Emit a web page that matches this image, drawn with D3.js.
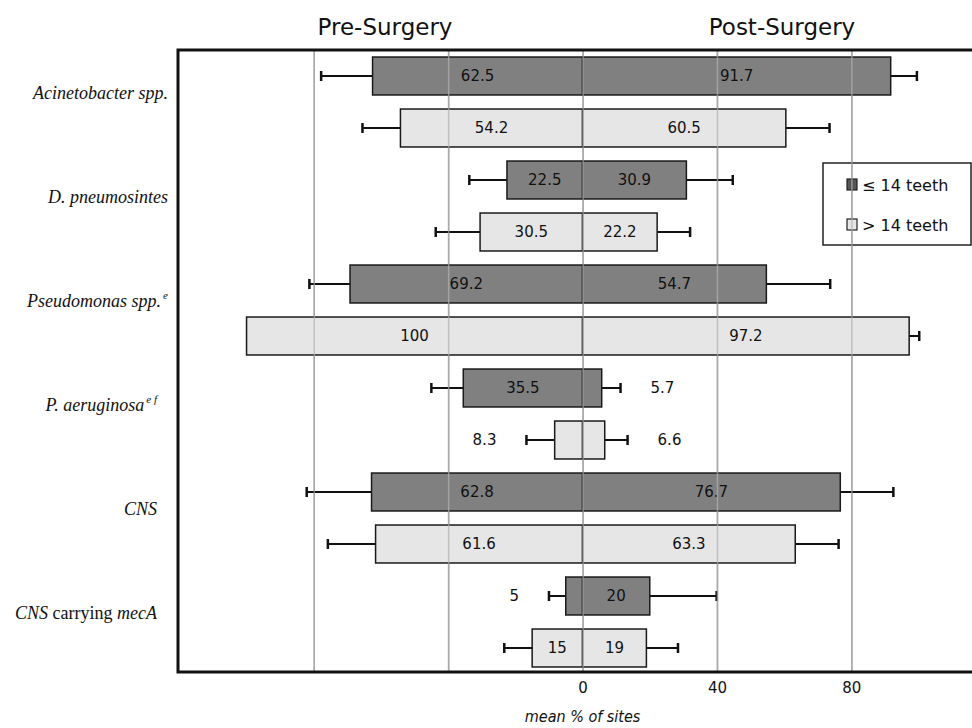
<!DOCTYPE html>
<html>
<head>
<meta charset="utf-8">
<style>
body { margin: 0; background: #fff; }
.head { font: 23px "DejaVu Sans", sans-serif; fill: #111; text-anchor: middle; }
.cat { font: italic 18px "Liberation Serif", serif; fill: #111; text-anchor: end; }
.val { font: 15px "DejaVu Sans", sans-serif; fill: #111; }
.tick text { font: 15px "DejaVu Sans", sans-serif; fill: #111; }
.xtitle { font: italic 16px "DejaVu Sans Condensed", "DejaVu Sans", sans-serif; fill: #111; text-anchor: middle; }
.leg { font: 16px "DejaVu Sans", sans-serif; fill: #111; }
</style>
</head>
<body>
<svg class="chart"></svg>
<script src="https://cdn.jsdelivr.net/npm/d3@7"></script>
<script>

var categories = ["Acinetobacter spp.", "D. pneumosintes", "Pseudomonas spp.", "P. aeruginosa", "CNS", "CNS carrying mecA"]
var superscripts = ["", "", "e", "e f", "", ""]
var groups = ["≤ 14 teeth", "> 14 teeth"]

// mean % of sites, pre- and post-surgery
var preLow = [62.5, 22.5, 69.2, 35.5, 62.8, 5]
var postLow = [91.7, 30.9, 54.7, 5.7, 76.7, 20]
var preHigh = [54.2, 30.5, 100, 8.3, 61.6, 15]
var postHigh = [60.5, 22.2, 97.2, 6.6, 63.3, 19]

// error bar lengths
var errPreLow = [15.3, 11.2, 12.1, 9.5, 19.3, 5]
var errPostLow = [7.8, 13.8, 19, 5.6, 15.8, 19.9]
var errPreHigh = [11.3, 13.2, 0, 8.4, 14.2, 8.3]
var errPostHigh = [13, 9.8, 3, 6.8, 12.9, 9.4]

var gridTicks = [-80, -40, 0, 40, 80]
var labelTicks = [0, 40, 80]

var width = 972, height = 728
var plotTop = 50, plotBottom = 672, plotLeft = 178, plotRight = 972

var rows = []
categories.forEach((c, i) => {
  rows.push({cat: i, g: 0, pre: preLow[i], post: postLow[i], ePre: errPreLow[i], ePost: errPostLow[i]})
  rows.push({cat: i, g: 1, pre: preHigh[i], post: postHigh[i], ePre: errPreHigh[i], ePost: errPostHigh[i]})
})

var x = d3.scaleLinear().domain([-120.4, 115.9]).range([plotLeft, plotRight])
var y = d3.scaleBand()
  .domain(d3.range(rows.length))
  .range([plotTop, plotBottom + 2])
  .paddingInner(0.27)
  .paddingOuter(0.135)

var fills = ["#808080", "#e6e6e6"]

var chart = d3.select(".chart")
  .attr('width', width)
  .attr('height', height)

// gridlines underneath
chart.append('g')
  .attr('transform', `translate(0, ${plotBottom})`)
  .call(d3.axisBottom(x).tickValues(gridTicks).tickSize(-(plotBottom - plotTop)).tickFormat(''))
  .call(g => g.select('.domain').remove())
  .call(g => g.selectAll('line').attr('stroke', '#9a9a9a').attr('stroke-width', 1.5))

var bars = chart.selectAll('.bar')
    .data(rows)
  .enter().append('g')
    .attr('class', 'bar')
    .attr('transform', (d, i) => `translate(0, ${y(i)})`)

var bw = y.bandwidth()

// error bars
function whisker(sel, from, to) {
  sel.append('line')
    .attr('x1', from).attr('x2', to)
    .attr('y1', bw / 2).attr('y2', bw / 2)
    .attr('stroke', '#111').attr('stroke-width', 2)
  sel.append('line')
    .attr('x1', to).attr('x2', to)
    .attr('y1', bw / 2 - 5).attr('y2', bw / 2 + 5)
    .attr('stroke', '#111').attr('stroke-width', 2.5)
}
bars.each(function(d) {
  var g = d3.select(this)
  if (d.ePre > 0) whisker(g, x(-d.pre), x(-d.pre - d.ePre))
  if (d.ePost > 0) whisker(g, x(d.post), x(d.post + d.ePost))
})

bars.append('rect')
  .attr('x', d => x(-d.pre))
  .attr('width', d => x(0) - x(-d.pre))
  .attr('height', bw)
  .attr('fill', d => fills[d.g])
  .attr('stroke', '#1a1a1a')
  .attr('stroke-width', 1.5)

bars.append('rect')
  .attr('x', x(0))
  .attr('width', d => x(d.post) - x(0))
  .attr('height', bw)
  .attr('fill', d => fills[d.g])
  .attr('stroke', '#1a1a1a')
  .attr('stroke-width', 1.5)

// value labels: inside the half bar, or past the whisker when the bar is small
bars.append('text')
  .attr('class', 'val')
  .attr('y', bw / 2 + 5)
  .attr('x', d => d.pre < 10 ? x(-d.pre - d.ePre) - 30 : (x(-d.pre) + x(0)) / 2)
  .attr('text-anchor', d => d.pre < 10 ? 'end' : 'middle')
  .text(d => d.pre)

bars.append('text')
  .attr('class', 'val')
  .attr('y', bw / 2 + 5)
  .attr('x', d => d.post < 10 ? x(d.post + d.ePost) + 30 : (x(d.post) + x(0)) / 2)
  .attr('text-anchor', d => d.post < 10 ? 'start' : 'middle')
  .text(d => d.post)

// legend
var leg = chart.append('g').attr('transform', 'translate(823, 163)')
leg.append('rect')
  .attr('width', 148).attr('height', 82)
  .attr('fill', 'none').attr('stroke', '#222').attr('stroke-width', 1.5)
groups.forEach((name, i) => {
  var row = leg.append('g').attr('transform', `translate(24, ${16 + i * 40})`)
  row.append('rect')
    .attr('width', 10).attr('height', 11)
    .attr('fill', i == 0 ? '#555' : '#e6e6e6')
    .attr('stroke', '#222').attr('stroke-width', 1.2)
  row.append('text')
    .attr('class', 'leg')
    .attr('x', 15).attr('y', 11.5)
    .text(name)
})

// gridlines over the bars
chart.append('g')
  .attr('transform', `translate(0, ${plotBottom})`)
  .call(d3.axisBottom(x).tickValues(gridTicks).tickSize(-(plotBottom - plotTop)).tickFormat(''))
  .call(g => g.select('.domain').remove())
  .call(g => g.selectAll('line').attr('stroke', '#b0b0b0').attr('stroke-width', 1.5).attr('stroke-opacity', 0.7))

// tick labels
chart.append('g')
  .attr('transform', `translate(0, ${plotBottom + 6})`)
  .call(d3.axisBottom(x).tickValues(labelTicks).tickSize(0).tickPadding(4))
  .call(g => g.select('.domain').remove())

chart.append('text')
  .attr('class', 'xtitle')
  .attr('x', x(0)).attr('y', 722)
  .text('mean % of sites')

// frame
chart.append('path')
  .attr('d', `M${plotRight},${plotTop}H${plotLeft}V${plotBottom}H${plotRight}`)
  .attr('fill', 'none').attr('stroke', '#111').attr('stroke-width', 3)

// headers
chart.append('text').attr('class', 'head').attr('x', 385).attr('y', 35).text('Pre-Surgery')
chart.append('text').attr('class', 'head').attr('x', 782).attr('y', 35).text('Post-Surgery')

// category labels
categories.forEach((c, i) => {
  var mid = (y(2 * i) + y(2 * i + 1) + bw) / 2
  var t = chart.append('text')
    .attr('class', 'cat')
    .attr('x', i < 3 ? 168 : 157)
    .attr('y', mid - 3)
  if (c == "CNS carrying mecA") {
    t.append('tspan').text('CNS')
    t.append('tspan').attr('font-style', 'normal').text(' carrying ')
    t.append('tspan').text('mecA')
  } else {
    t.append('tspan').text(c)
  }
  if (superscripts[i]) {
    t.append('tspan')
      .attr('font-size', 11)
      .attr('dx', 2)
      .attr('dy', -8)
      .text(superscripts[i])
  }
})

</script>
</body>
</html>
